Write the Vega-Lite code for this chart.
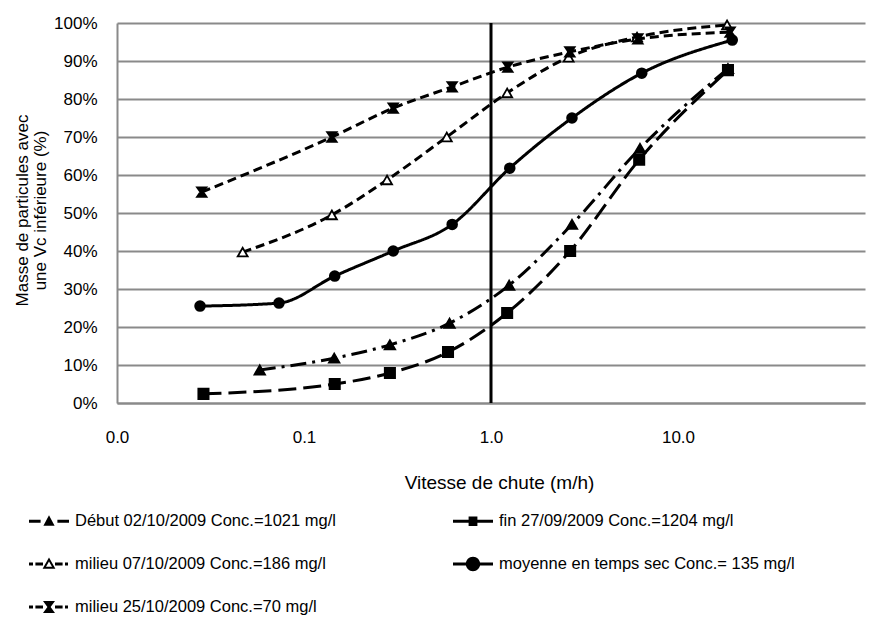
{
  "$schema": "https://vega.github.io/schema/vega-lite/v6.json",
  "width": 748,
  "height": 380,
  "autosize": {"type": "none"},
  "padding": {"left": 117, "top": 23, "right": 20, "bottom": 219},
  "background": "white",
  "config": {
    "font": "Liberation Sans",
    "view": {"stroke": null},
    "axis": {"labelColor": "black", "titleColor": "black", "labelFont": "Liberation Sans", "titleFont": "Liberation Sans", "titleFontWeight": "normal"},
    "legend": {"labelFont": "Liberation Sans", "labelColor": "black"}
  },
  "datasets": {
    "curves": [
      {"s": "Début 02/10/2009  Conc.=1021 mg/l", "v": 0.058, "p": 0.087},
      {"s": "Début 02/10/2009  Conc.=1021 mg/l", "v": 0.145, "p": 0.118},
      {"s": "Début 02/10/2009  Conc.=1021 mg/l", "v": 0.288, "p": 0.153},
      {"s": "Début 02/10/2009  Conc.=1021 mg/l", "v": 0.6, "p": 0.21},
      {"s": "Début 02/10/2009  Conc.=1021 mg/l", "v": 1.25, "p": 0.31},
      {"s": "Début 02/10/2009  Conc.=1021 mg/l", "v": 2.71, "p": 0.47},
      {"s": "Début 02/10/2009  Conc.=1021 mg/l", "v": 6.26, "p": 0.67},
      {"s": "Début 02/10/2009  Conc.=1021 mg/l", "v": 18.5, "p": 0.88},
      {"s": "fin 27/09/2009 Conc.=1204 mg/l", "v": 0.029, "p": 0.024},
      {"s": "fin 27/09/2009 Conc.=1204 mg/l", "v": 0.146, "p": 0.05},
      {"s": "fin 27/09/2009 Conc.=1204 mg/l", "v": 0.288, "p": 0.079},
      {"s": "fin 27/09/2009 Conc.=1204 mg/l", "v": 0.589, "p": 0.134},
      {"s": "fin 27/09/2009 Conc.=1204 mg/l", "v": 1.22, "p": 0.237},
      {"s": "fin 27/09/2009 Conc.=1204 mg/l", "v": 2.65, "p": 0.4},
      {"s": "fin 27/09/2009 Conc.=1204 mg/l", "v": 6.2, "p": 0.64},
      {"s": "fin 27/09/2009 Conc.=1204 mg/l", "v": 18.5, "p": 0.876},
      {"s": "milieu 07/10/2009 Conc.=186 mg/l", "v": 0.047, "p": 0.397},
      {"s": "milieu 07/10/2009 Conc.=186 mg/l", "v": 0.141, "p": 0.495},
      {"s": "milieu 07/10/2009 Conc.=186 mg/l", "v": 0.278, "p": 0.587},
      {"s": "milieu 07/10/2009 Conc.=186 mg/l", "v": 0.58, "p": 0.7},
      {"s": "milieu 07/10/2009 Conc.=186 mg/l", "v": 1.22, "p": 0.816},
      {"s": "milieu 07/10/2009 Conc.=186 mg/l", "v": 2.6, "p": 0.91},
      {"s": "milieu 07/10/2009 Conc.=186 mg/l", "v": 6.04, "p": 0.963},
      {"s": "milieu 07/10/2009 Conc.=186 mg/l", "v": 18.3, "p": 0.995},
      {"s": "moyenne en temps sec Conc.= 135 mg/l", "v": 0.0278, "p": 0.255},
      {"s": "moyenne en temps sec Conc.= 135 mg/l", "v": 0.0735, "p": 0.263},
      {"s": "moyenne en temps sec Conc.= 135 mg/l", "v": 0.146, "p": 0.334},
      {"s": "moyenne en temps sec Conc.= 135 mg/l", "v": 0.3, "p": 0.4},
      {"s": "moyenne en temps sec Conc.= 135 mg/l", "v": 0.62, "p": 0.47},
      {"s": "moyenne en temps sec Conc.= 135 mg/l", "v": 1.26, "p": 0.618},
      {"s": "moyenne en temps sec Conc.= 135 mg/l", "v": 2.71, "p": 0.75},
      {"s": "moyenne en temps sec Conc.= 135 mg/l", "v": 6.4, "p": 0.868},
      {"s": "moyenne en temps sec Conc.= 135 mg/l", "v": 19.5, "p": 0.955},
      {"s": "milieu 25/10/2009 Conc.=70 mg/l", "v": 0.0284, "p": 0.555},
      {"s": "milieu 25/10/2009 Conc.=70 mg/l", "v": 0.141, "p": 0.7},
      {"s": "milieu 25/10/2009 Conc.=70 mg/l", "v": 0.3, "p": 0.776},
      {"s": "milieu 25/10/2009 Conc.=70 mg/l", "v": 0.62, "p": 0.832},
      {"s": "milieu 25/10/2009 Conc.=70 mg/l", "v": 1.23, "p": 0.884},
      {"s": "milieu 25/10/2009 Conc.=70 mg/l", "v": 2.64, "p": 0.924},
      {"s": "milieu 25/10/2009 Conc.=70 mg/l", "v": 6.1, "p": 0.958},
      {"s": "milieu 25/10/2009 Conc.=70 mg/l", "v": 19, "p": 0.976}
    ],
    "marker": [{"vc": 1}]
  },
  "layer": [
    {
      "data": {"name": "marker"},
      "mark": {"type": "rule", "color": "black", "strokeWidth": 3},
      "encoding": {
        "x": {
          "field": "vc", "type": "quantitative",
          "scale": {"type": "log", "domain": [0.01, 100], "nice": false},
          "axis": {
            "values": [0.01, 0.1, 1, 10], "format": ".1f", "grid": false, "ticks": false, "tickSize": 0, "labelOverlap": false, "labelFlush": false,
            "domainColor": "#8a8a8a", "domainWidth": 2, "labelFontSize": 17, "labelPadding": 26,
            "title": "Vitesse de chute (m/h)", "titleFontSize": 19, "titleX": 382, "titleY": 79, "titleBaseline": "middle", "titleAlign": "center"
          }
        }
      }
    },
    {
      "data": {"name": "curves"},
      "mark": {"type": "line", "color": "black", "strokeWidth": 3, "interpolate": "monotone"},
      "encoding": {
        "x": {"field": "v", "type": "quantitative"},
        "y": {
          "field": "p", "type": "quantitative",
          "scale": {"domain": [0, 1], "nice": false},
          "axis": {
            "values": [0, 0.1, 0.2, 0.3, 0.4, 0.5, 0.6, 0.7, 0.8, 0.9, 1], "tickCount": 11, "format": ".0%", "grid": true, "gridColor": "#8a8a8a", "gridWidth": 2, "gridOpacity": 1,
            "ticks": false, "tickSize": 0, "labelOverlap": false, "domainColor": "#8a8a8a", "domainWidth": 2, "labelFontSize": 17, "labelPadding": 20,
            "title": ["Masse de particules avec", "une Vc inférieure (%)"], "titleFontSize": 17, "titleAngle": -90, "titleAlign": "center", "titleBaseline": "bottom", "titleLineHeight": 18, "titleX": -86, "titleY": 187
          }
        },
        "detail": {"field": "s"},
        "strokeDash": {
          "field": "s", "type": "nominal", "legend": null,
          "scale": {
            "domain": ["Début 02/10/2009  Conc.=1021 mg/l", "fin 27/09/2009 Conc.=1204 mg/l", "milieu 07/10/2009 Conc.=186 mg/l", "moyenne en temps sec Conc.= 135 mg/l", "milieu 25/10/2009 Conc.=70 mg/l"],
            "range": [[16, 6, 3, 6], [18, 7], [9, 5], [1, 0], [9, 5]]
          }
        }
      }
    },
    {
      "data": {"name": "curves"},
      "mark": {"type": "point", "filled": true, "stroke": "black", "strokeWidth": 1.8, "opacity": 1},
      "encoding": {
        "x": {"field": "v", "type": "quantitative"},
        "y": {"field": "p", "type": "quantitative"},
        "shape": {
          "field": "s", "type": "nominal", "legend": null,
          "scale": {
            "domain": ["Début 02/10/2009  Conc.=1021 mg/l", "fin 27/09/2009 Conc.=1204 mg/l", "milieu 07/10/2009 Conc.=186 mg/l", "moyenne en temps sec Conc.= 135 mg/l", "milieu 25/10/2009 Conc.=70 mg/l"],
            "range": ["triangle-up", "square", "triangle-up", "circle", "M-1,-1H1L0.3,0L1,1H-1L-0.3,0Z"]
          }
        },
        "size": {
          "field": "s", "type": "nominal", "legend": null,
          "scale": {
            "domain": ["Début 02/10/2009  Conc.=1021 mg/l", "fin 27/09/2009 Conc.=1204 mg/l", "milieu 07/10/2009 Conc.=186 mg/l", "moyenne en temps sec Conc.= 135 mg/l", "milieu 25/10/2009 Conc.=70 mg/l"],
            "range": [110, 90, 130, 200, 130]
          }
        },
        "fill": {
          "field": "s", "type": "nominal", "legend": null,
          "scale": {
            "domain": ["Début 02/10/2009  Conc.=1021 mg/l", "fin 27/09/2009 Conc.=1204 mg/l", "milieu 07/10/2009 Conc.=186 mg/l", "moyenne en temps sec Conc.= 135 mg/l", "milieu 25/10/2009 Conc.=70 mg/l"],
            "range": ["black", "black", "white", "black", "black"]
          }
        }
      }
    },
    {
      "data": {"name": "curves"},
      "transform": [{"filter": "datum.p > 5"}],
      "mark": {"type": "point", "filled": true, "color": "black"},
      "encoding": {
        "x": {"field": "v", "type": "quantitative"},
        "y": {"field": "p", "type": "quantitative"},
        "shape": {
          "field": "s", "type": "nominal",
          "scale": {
            "domain": ["Début 02/10/2009  Conc.=1021 mg/l", "fin 27/09/2009 Conc.=1204 mg/l", "milieu 07/10/2009 Conc.=186 mg/l", "moyenne en temps sec Conc.= 135 mg/l", "milieu 25/10/2009 Conc.=70 mg/l"],
            "range": [
              "M-1,-0.08H-0.42V0.08H-1Z M0.42,-0.08H1V0.08H0.42Z M0,-0.3L0.28,0.22H-0.28Z",
              "M-1,-0.08H1V0.08H-1Z M-0.22,-0.24H0.22V0.24H-0.22Z",
              "M-1,-0.08H-0.8V0.08H-1Z M-0.68,-0.08H-0.3V0.08H-0.68Z M0.3,-0.08H0.68V0.08H0.3Z M0.8,-0.08H0.95V0.08H0.8Z M0,-0.32L0.32,0.24H-0.32Z M0,-0.12L-0.15,0.14H0.15Z",
              "M-1,-0.08H1V0.08H-1Z M-0.36,0A0.36,0.36,0,1,1,0.36,0A0.36,0.36,0,1,1,-0.36,0Z",
              "M-1,-0.08H-0.8V0.08H-1Z M-0.68,-0.08H-0.3V0.08H-0.68Z M0.3,-0.08H0.68V0.08H0.3Z M0.8,-0.08H0.95V0.08H0.8Z M-0.3,-0.3H0.3L0.08,0L0.3,0.3H-0.3L-0.08,0Z"
            ]
          },
          "legend": {
            "title": null, "orient": "none", "legendX": -88, "legendY": 478, "columns": 2, "direction": "horizontal",
            "symbolSize": 1600, "symbolFillColor": "black", "symbolStrokeWidth": 0, "symbolOpacity": 1,
            "labelFontSize": 16.5, "labelLimit": 600, "labelOffset": 6, "columnPadding": 112, "rowPadding": 14, "padding": 0,
            "labelBaseline": "middle",
            "encode": {"symbols": {"update": {"fill": {"value": "black"}, "stroke": {"value": "transparent"}, "opacity": {"value": 1}}}}
          }
        }
      }
    }
  ],
  "resolve": {"scale": {"shape": "independent", "fill": "independent", "size": "independent"}, "legend": {"shape": "independent"}}
}
